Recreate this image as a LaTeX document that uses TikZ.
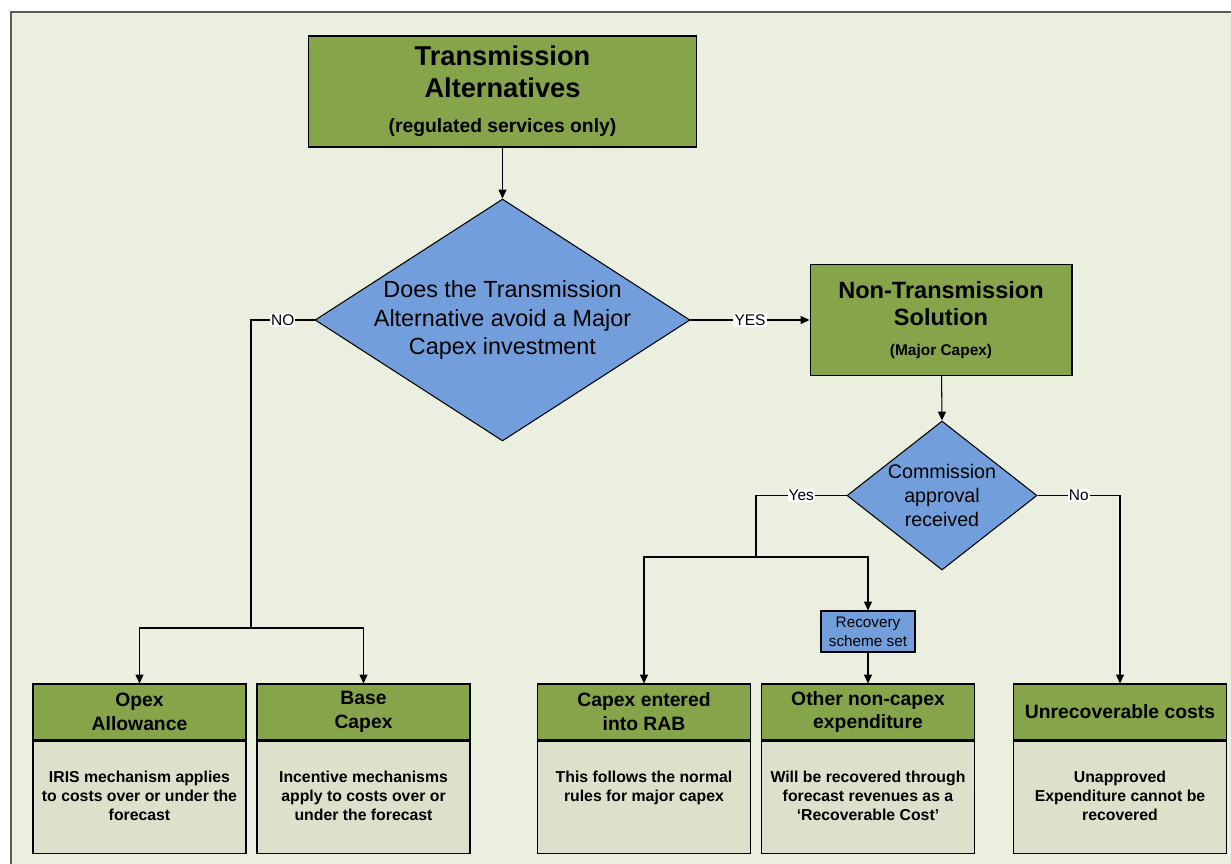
\documentclass[tikz,border=0pt]{standalone}
\usepackage{fontspec}
\setmainfont{Liberation Sans}
\usepackage{xcolor}
\usetikzlibrary{positioning,shapes.geometric,arrows.meta}
\definecolor{bggreen}{HTML}{EBEFDF}
\definecolor{headgreen}{HTML}{86A44A}
\definecolor{qblue}{HTML}{729FDB}
\definecolor{bodygrey}{HTML}{DDE1CB}

\begin{document}
\begin{tikzpicture}[x=0.02cm,y=-0.02cm,line width=0.6pt,
  greenbox/.style={draw, fill=headgreen, align=center, inner sep=0pt},
  question/.style={diamond, draw, fill=qblue, inner sep=0pt},
  headbox/.style={greenbox, minimum width=4.26cm, minimum height=1.12cm, font=\fontsize{11}{13.6}\selectfont\bfseries},
  bodybox/.style={draw, fill=bodygrey, minimum width=4.26cm, minimum height=2.24cm},
  bodytext/.style={anchor=north, align=center, inner sep=0pt, font=\fontsize{9}{10.75}\selectfont\bfseries},
  lbl/.style={fill=white, inner sep=0.6pt, font=\fontsize{8.8}{10}\selectfont},
  arr/.style={-{Triangle[length=5pt,width=4.5pt]}}]
\useasboundingbox (0,0) rectangle (1231,863);
% background panel
\fill[bggreen] (11,12) rectangle (1245,880);
\draw[gray!70!black] (1245,12) -- (11,12) -- (11,880);

% top and decisions
\node[greenbox, minimum width=7.78cm, minimum height=2.22cm, font=\fontsize{15.5}{18}\selectfont\bfseries] (top) at (502.5,91.5)
  {Transmission\\Alternatives\\[2.3pt]\fontsize{11}{13}\selectfont (regulated services only)};
\node[question, minimum width=7.5cm, minimum height=4.84cm,
  label={[align=center, font=\fontsize{13.3}{16.4}\selectfont]center:Does the Transmission\\Alternative avoid a Major\\Capex investment}] (q1) at (502.5,320) {};
\node[greenbox, minimum width=5.24cm, minimum height=2.22cm, font=\fontsize{13.4}{15.8}\selectfont\bfseries] (nts) at (941,320)
  {Non-Transmission\\Solution\\[1.2pt]\fontsize{8.8}{10.5}\selectfont (Major Capex)};
\node[question, minimum width=3.8cm, minimum height=2.98cm,
  label={[align=center, font=\fontsize{11.2}{13.6}\selectfont]center:Commission\\approval\\received}] (q2) at (942,495.5) {};
\node[draw, fill=qblue, align=center, inner sep=0pt, minimum width=1.88cm, minimum height=0.82cm,
  font=\fontsize{8.7}{10.75}\selectfont] (rec) at (868,631.5) {Recovery\\scheme set};

% outcome boxes
\node[headbox] (opexh) at (139.5,712) {Opex\\Allowance};
\node[bodybox, below=0pt of opexh] (opexb) {};
\node[bodytext] at ([yshift=-0.6cm]opexb.north) {IRIS mechanism applies\\to costs over or under the\\forecast};

\node[headbox] (baseh) at (363.5,712) {Base\\Capex};
\node[bodybox, below=0pt of baseh] (baseb) {};
\node[bodytext] at ([yshift=-0.6cm]baseb.north) {Incentive mechanisms\\apply to costs over or\\under the forecast};

\node[headbox] (capexh) at (644,712) {Capex entered\\into RAB};
\node[bodybox, below=0pt of capexh] (capexb) {};
\node[bodytext] at ([yshift=-0.6cm]capexb.north) {This follows the normal\\rules for major capex};

\node[headbox] (otherh) at (868,712) {Other non-capex\\expenditure};
\node[bodybox, below=0pt of otherh] (otherb) {};
\node[bodytext] at ([yshift=-0.6cm]otherb.north) {Will be recovered through\\forecast revenues as a\\`Recoverable Cost'};

\node[headbox] (unrech) at (1120,712) {Unrecoverable costs};
\node[bodybox, below=0pt of unrech] (unrecb) {};
\node[bodytext] at ([yshift=-0.6cm]unrecb.north) {Unapproved\\Expenditure cannot be\\recovered};

% connectors
\coordinate (nobend) at (251,320);
\coordinate (nosplit) at (251,628);
\coordinate (yesbend) at (756,495.5);
\coordinate (yessplit) at (756,557);
\draw[arr] (top) -- (q1.north);
\draw (q1.west) -- node[lbl]{NO} (nobend) -- (nosplit);
\draw[arr] (nosplit) -| (opexh.north);
\draw[arr] (nosplit) -| (baseh.north);
\draw[arr] (q1.east) -- node[lbl]{YES} (nts.west);
\draw[arr] (nts) -- (q2.north);
\draw (q2.west) -- node[lbl]{Yes} (yesbend) -- (yessplit);
\draw[arr] (yessplit) -| (capexh.north);
\draw[arr] (yessplit) -| (rec.north);
\draw[arr] (rec) -- (otherh.north);
\draw[arr] (q2.east) -| node[lbl, pos=0.25]{No} (unrech.north);
\end{tikzpicture}
\end{document}
